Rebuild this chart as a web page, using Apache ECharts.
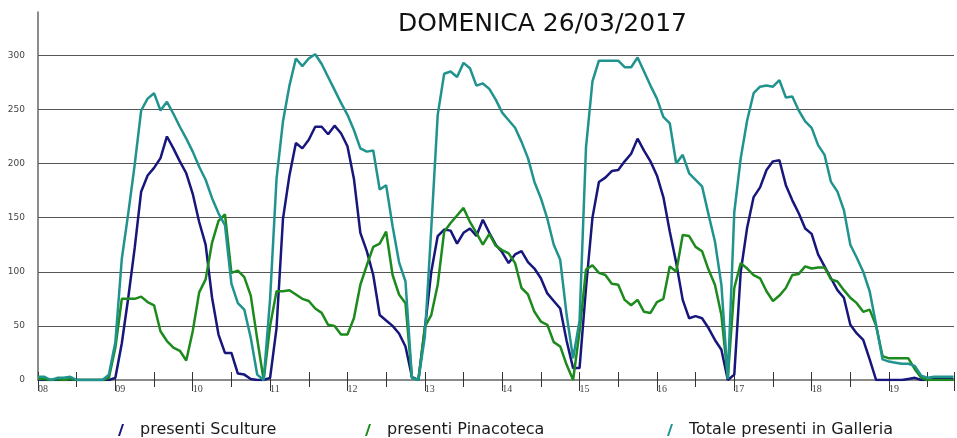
<!DOCTYPE html>
<html>
<head>
<meta charset="utf-8">
<script src="https://cdn.jsdelivr.net/npm/echarts@6/dist/echarts.min.js"></script>
<style>html,body{margin:0;padding:0;background:#fff;}#c{width:957px;height:438px;}</style>
</head>
<body>
<div id="c"></div>
<script>
// 5-minute readings from 08:00 to 19:50 (one row per hour)
const startHour = 8;
const stepMinutes = 5;

const sculture = [
  0,0,0,0,0,0,0,0,0,0,0,0,
  2,34,76,122,174,189,196,205,225,214,202,191,
  172,146,125,76,42,25,25,6,5,1,0,0,
  2,48,149,189,219,214,222,234,234,227,235,228,
  216,186,136,119,97,60,55,50,43,31,3,0,
  47,100,133,139,138,126,136,140,133,148,136,125,
  118,108,116,119,109,103,94,80,73,66,36,11,
  11,85,150,183,187,193,194,202,209,223,212,202,
  189,169,137,108,74,57,59,57,48,37,28,0,
  5,100,141,169,178,194,202,203,180,166,154,140,
  135,116,105,94,83,76,51,43,37,19,0,0,
  0,0,0,1,2,0,0,1,1,1,1
];
const pinacoteca = [
  1,1,0,1,0,1,0,0,0,0,0,2,
  30,75,75,75,77,72,69,45,36,30,27,18,
  45,81,93,127,147,153,99,101,95,78,38,0,
  50,82,82,83,79,75,73,66,62,51,50,42,
  42,57,88,106,123,126,137,97,79,71,2,0,
  49,60,88,137,145,152,159,146,136,125,135,124,
  120,117,108,85,79,63,54,51,35,31,14,0,
  45,102,106,99,97,89,88,74,69,74,63,62,
  72,75,105,100,134,133,123,119,102,88,60,2,
  85,108,103,97,94,82,73,78,85,97,98,105,
  103,104,104,93,91,83,76,71,63,65,50,22,
  20,20,20,20,10,2,0,0,0,0,0
];
const totale = [
  3,3,0,2,2,3,0,0,0,0,0,5,
  35,112,154,199,249,260,265,249,257,246,234,223,
  211,197,185,168,154,143,89,71,65,39,5,0,
  75,186,239,272,297,290,297,301,292,280,268,256,
  245,231,214,211,212,176,180,142,109,91,2,0,
  40,140,245,283,285,280,293,288,272,274,269,259,
  247,240,233,220,205,183,168,149,125,111,60,20,
  55,215,276,295,295,295,295,289,289,298,285,272,
  260,243,237,200,208,191,185,179,153,128,88,1,
  155,205,240,265,271,272,271,277,261,262,249,239,
  233,217,208,183,174,157,125,113,100,82,51,19,
  17,16,15,15,13,4,2,3,3,3,3
];

const seriesNames = ['presenti Sculture', 'presenti Pinacoteca', 'Totale presenti in Galleria'];
const seriesColors = ['#16167c', '#1c8a1c', '#21938f'];
const titleText = 'DOMENICA 26/03/2017';
const yTicks = [0, 50, 100, 150, 200, 250, 300];

const times = sculture.map((_, i) => startHour + i * stepMinutes / 60);
const pair = arr => arr.map((v, i) => [times[i], v]);

const xMin = 8, xMax = 19.84;
const slash = 'path://M0,12 L2,12 L6,0 L4,0 Z';

const chart = echarts.init(document.getElementById('c'), null, {renderer: 'canvas'});
const baseX = {
  type: 'value', min: xMin, max: xMax, position: 'bottom', gridIndex: 0,
  splitLine: {show: false}, axisLine: {show: false}, axisLabel: {show: false}
};
const legendBase = {
  top: 417, icon: slash, itemWidth: 6, itemHeight: 13,
  textStyle: {fontFamily: 'DejaVu Sans', fontSize: 16, color: '#1a1a1a', padding: [0, 0, 0, 11]}
};
chart.setOption({
  animation: false,
  backgroundColor: '#ffffff',
  title: {
    text: titleText, left: 393, top: 7,
    textStyle: {fontFamily: 'DejaVu Sans', fontSize: 25, fontWeight: 'normal', color: '#111'}
  },
  legend: [
    Object.assign({}, legendBase, {left: 113, data: [seriesNames[0]]}),
    Object.assign({}, legendBase, {left: 360, data: [seriesNames[1]]}),
    Object.assign({}, legendBase, {left: 662, data: [seriesNames[2]]})
  ],
  grid: {left: 38, right: 0, top: 12, bottom: 58},
  xAxis: [
    Object.assign({}, baseX, {
      interval: 1,
      axisLine: {show: true, lineStyle: {color: '#8a8a8a', width: 2}},
      axisTick: {show: true, length: 11, lineStyle: {color: '#333', width: 1}},
      axisLabel: {
        show: true, align: 'left', margin: 4, fontFamily: 'Liberation Serif', fontSize: 10, color: '#444',
        formatter: v => (Math.abs(v - Math.round(v)) < 1e-6 ? String(Math.round(v)).padStart(2, '0') : '')
      }
    }),
    Object.assign({}, baseX, {
      interval: 0.5,
      axisTick: {show: true, length: 7, lineStyle: {color: '#333', width: 1}}
    }),
    Object.assign({}, baseX, {
      interval: 0.5,
      axisTick: {show: true, inside: true, length: 8, lineStyle: {color: '#333', width: 1}}
    })
  ],
  yAxis: {
    type: 'value', min: 0, max: 340, interval: 50,
    axisLine: {show: true, lineStyle: {color: '#666', width: 1.5}},
    axisTick: {show: false},
    axisLabel: {
      margin: 13, fontFamily: 'DejaVu Sans', fontSize: 9, color: '#444',
      formatter: v => (yTicks.indexOf(v) >= 0 ? String(v) : '')
    },
    splitLine: {
      show: true,
      lineStyle: {width: 1, color: ['rgba(0,0,0,0)', '#555', '#555', '#555', '#555', '#555', '#555', 'rgba(0,0,0,0)']}
    }
  },
  series: [
    {name: seriesNames[0], type: 'line', data: pair(sculture), color: seriesColors[0]},
    {name: seriesNames[1], type: 'line', data: pair(pinacoteca), color: seriesColors[1]},
    {name: seriesNames[2], type: 'line', data: pair(totale), color: seriesColors[2]}
  ].map(s => Object.assign(s, {
    xAxisIndex: 0, showSymbol: false, symbol: 'none', smooth: false,
    lineStyle: {width: 2.5, color: s.color}, itemStyle: {color: s.color}
  }))
});
</script>
</body>
</html>
